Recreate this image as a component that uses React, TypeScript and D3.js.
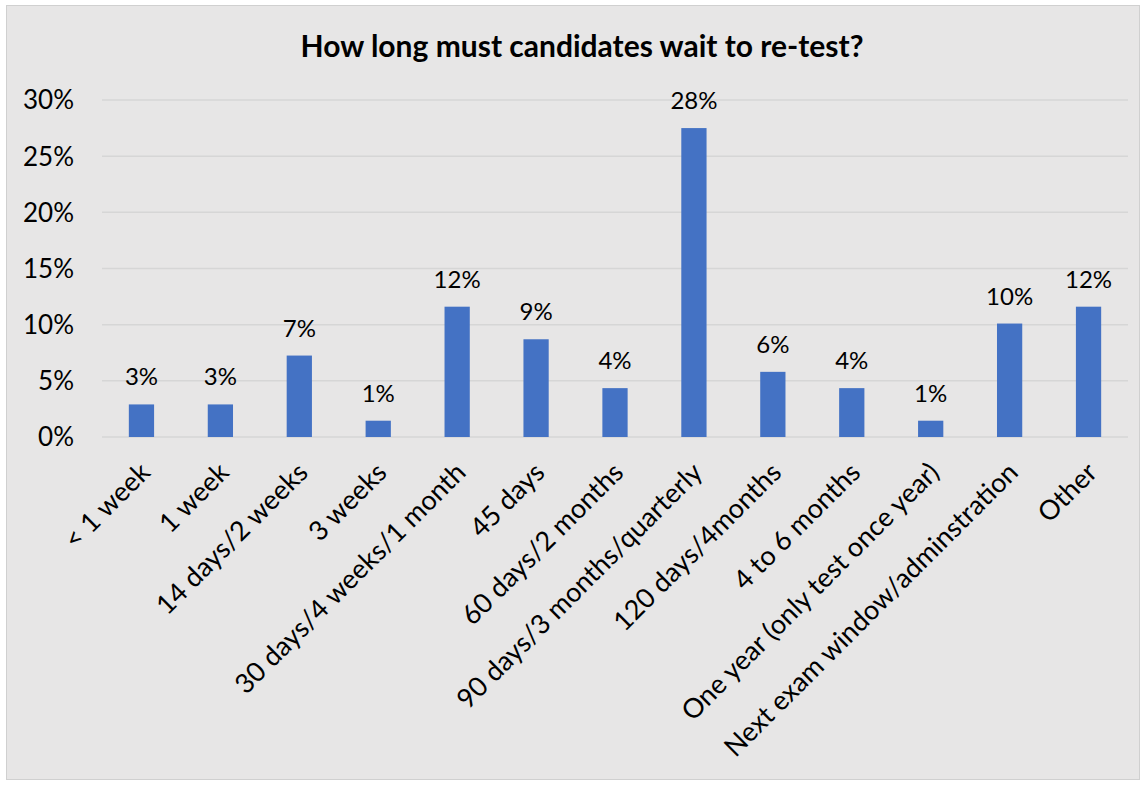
import React from "react";
import * as d3 from "d3";

const categories = [
  "< 1 week",
  "1 week",
  "14 days/2 weeks",
  "3 weeks",
  "30 days/4 weeks/1 month",
  "45 days",
  "60 days/2 months",
  "90 days/3 months/quarterly",
  "120 days/4months",
  "4 to 6 months",
  "One year (only test once year)",
  "Next exam window/adminstration",
  "Other",
];
const values = [2.9, 2.9, 7.25, 1.45, 11.6, 8.7, 4.35, 27.5, 5.8, 4.35, 1.45, 10.1, 11.6];
const yTicks = [0, 5, 10, 15, 20, 25, 30];
const title = "How long must candidates wait to re-test?";

const W = 1143;
const H = 785;
const FONT = "Lato, 'Open Sans', sans-serif";

export default function App() {
  const x = d3.scaleBand<string>().domain(categories).range([102, 1128]).paddingInner(0.68).paddingOuter(0.34);
  const y = d3.scaleLinear().domain([0, 30]).range([437, 100]);
  return (
    <svg width={W} height={H} style={{ position: "absolute", left: 0, top: 0 }} fontFamily={FONT}>
      <rect x={0} y={0} width={W} height={H} fill="#ffffff" />
      <rect x={6.5} y={5.5} width={1133} height={774} fill="#e7e6e6" stroke="#d0d0d0" strokeWidth={1} />
      <text x={582} y={57} textAnchor="middle" fontSize={30} fontWeight="bold" fill="#000">
        {title}
      </text>
      {yTicks.map((t) => (
        <g key={t}>
          <line x1={102} x2={1128} y1={y(t)} y2={y(t)} stroke="#d6d6d6" strokeWidth={1.5} />
          <text x={74} y={y(t)} dy="0.36em" textAnchor="end" fontSize={26} fill="#000">
            {t}%
          </text>
        </g>
      ))}
      {categories.map((c, i) => {
        const bx = x(c)!;
        const bw = x.bandwidth();
        const cx = bx + bw / 2;
        return (
          <g key={c}>
            <rect x={bx} y={y(values[i])} width={bw} height={y(0) - y(values[i])} fill="#4472c4" />
            <text x={cx} y={y(values[i]) - 19} textAnchor="middle" fontSize={24} fill="#000">
              {Math.round(values[i])}%
            </text>
            <text
              transform={`translate(${cx - 4},${460}) rotate(-45)`}
              textAnchor="end"
              dy="0.74em"
              fontSize={27}
              fill="#000"
            >
              {c}
            </text>
          </g>
        );
      })}
    </svg>
  );
}
